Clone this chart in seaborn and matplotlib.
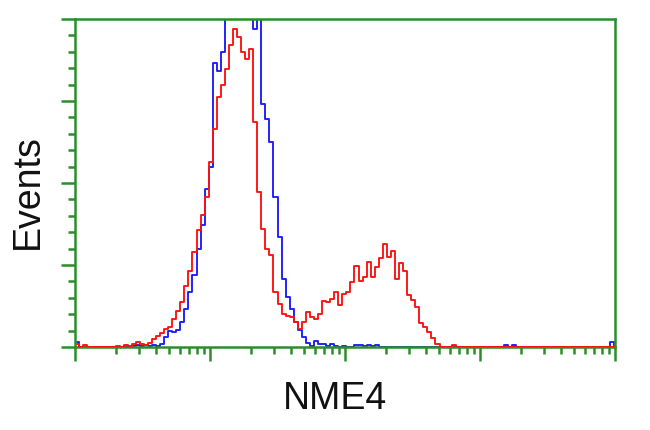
import numpy as np
import pandas as pd
import matplotlib
matplotlib.use("Agg")
import matplotlib.pyplot as plt
import seaborn as sns
from matplotlib.ticker import LogLocator, LinearLocator, AutoMinorLocator, NullFormatter

# Histogram bins: 0.03 decades each, starting at 10^0
bin_width_decades = 0.03
n_bins = 134

# Events per bin (isotype control, blue)
control_counts = ([5, 0, 0, 0, 0, 0, 0, 0, 0, 0,
                   0, 0, 1, 0, 1, 2, 1, 2, 1, 2,
                   1, 3, 10, 16, 15, 17, 25, 38, 55, 72,
                   98, 122, 158, 180, 284, 276, 295, 360, 380, 390,
                   385, 380, 370, 350, 318, 340, 243, 228, 205, 150,
                   110, 68, 50, 38, 25, 17, 10, 4, 1, 6,
                   3, 3, 1, 3, 1, 0, 1, 0, 0, 2,
                   2, 1, 2, 1, 2, 0]
                  + [0] * 30 + [2, 0, 2] + [0] * 23 + [5, 0])

# Events per bin (NME4 antibody, red)
nme4_counts = ([3, 0, 2, 0, 0, 0, 0, 0, 0, 0,
                1, 0, 2, 1, 3, 5, 3, 2, 4, 8,
                11, 14, 18, 20, 28, 36, 45, 61, 76, 95,
                117, 132, 150, 185, 218, 250, 262, 278, 302, 318,
                310, 295, 288, 298, 225, 155, 118, 98, 92, 55,
                43, 33, 31, 30, 25, 18, 25, 35, 30, 28,
                33, 46, 45, 48, 55, 42, 53, 55, 65, 81,
                66, 70, 85, 70, 80, 89, 103, 90, 96, 68,
                84, 76, 52, 47, 40, 24, 20, 15, 9, 3,
                0, 0, 0, 2]
               + [0] * 40)

x_label = "NME4"
y_label = "Events"

centers = 10 ** ((np.arange(n_bins) + 0.5) * bin_width_decades)
df = pd.DataFrame({
    "intensity": np.concatenate([centers, centers]),
    "events": np.concatenate([control_counts[:n_bins], nme4_counts[:n_bins]]),
    "sample": ["control"] * n_bins + ["NME4"] * n_bins,
})

sns.set_style("white")
plt.rcParams["font.family"] = ["Liberation Sans", "DejaVu Sans"]

fig = plt.figure(figsize=(6.5, 4.31), dpi=100)
ax = fig.add_axes([75 / 650, 1 - 348 / 431, 540 / 650, 328 / 431])

sns.lineplot(data=df[df["sample"] == "control"], x="intensity", y="events",
             color="#1a1aff", linewidth=1.35, drawstyle="steps-mid",
             estimator=None, sort=False, ax=ax, zorder=2)
sns.lineplot(data=df[df["sample"] == "NME4"], x="intensity", y="events",
             color="#ff1010", linewidth=1.35, drawstyle="steps-mid",
             estimator=None, sort=False, ax=ax, zorder=3)

ax.set_xscale("log")
ax.set_xlim(1, 1e4)
ax.set_ylim(0, 328)

green = "#2a8f2a"
for s in ax.spines.values():
    s.set_color(green)
    s.set_linewidth(1.8)

ax.xaxis.set_major_locator(LogLocator(base=10, numticks=10))
ax.xaxis.set_minor_locator(LogLocator(base=10, subs=np.arange(2, 10), numticks=20))
ax.yaxis.set_major_locator(LinearLocator(5))
ax.yaxis.set_minor_locator(AutoMinorLocator(5))
ax.xaxis.set_major_formatter(NullFormatter())
ax.xaxis.set_minor_formatter(NullFormatter())
ax.yaxis.set_major_formatter(NullFormatter())
ax.yaxis.set_minor_formatter(NullFormatter())

ax.tick_params(axis="both", which="major", direction="out", color=green,
               width=1.8, length=10, bottom=True, left=True, top=False, right=False)
ax.tick_params(axis="both", which="minor", direction="out", color=green,
               width=1.8, length=5, bottom=True, left=True, top=False, right=False)

ax.set_xlabel(x_label, fontsize=27, color="#111111")
ax.set_ylabel(y_label, fontsize=27, color="#111111")
ax.xaxis.set_label_coords((335 - 75) / 540, (348 - 381) / 328)
ax.yaxis.set_label_coords((46 - 75) / 540, (348 - 192) / 328)

fig.savefig("out.png", dpi=100, facecolor="white")
